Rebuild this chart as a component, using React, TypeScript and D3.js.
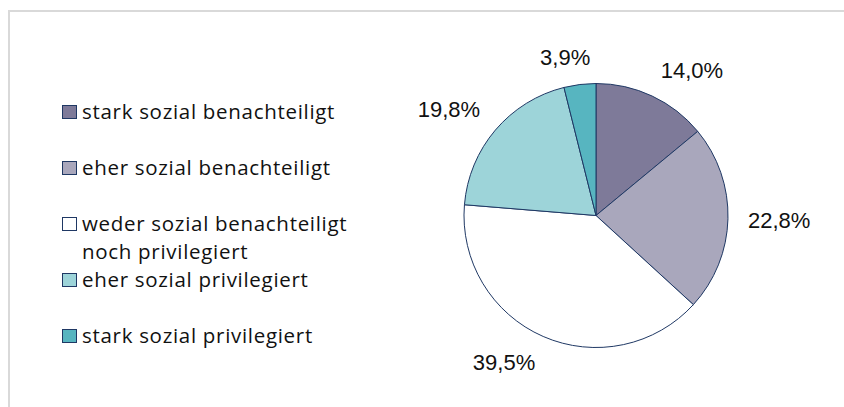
import React, { useEffect, useRef } from 'react';
import * as d3 from 'd3';

const categories = [
  'stark sozial benachteiligt',
  'eher sozial benachteiligt',
  'weder sozial benachteiligt|noch privilegiert',
  'eher sozial privilegiert',
  'stark sozial privilegiert',
];
const values = [14.0, 22.8, 39.5, 19.8, 3.9];
const labels = ['14,0%', '22,8%', '39,5%', '19,8%', '3,9%'];
const colors = ['#7e7a99', '#a9a7bc', '#ffffff', '#9dd4d9', '#57b5c0'];

const W = 844;
const H = 407;

const App: React.FC = () => {
  const svgRef = useRef<SVGSVGElement>(null);

  useEffect(() => {
    if (!svgRef.current) return;
    const svg = d3.select(svgRef.current);
    svg.selectAll('*').remove();

    // chart frame (only top/left edges visible)
    svg.append('rect')
      .attr('x', 9).attr('y', 11)
      .attr('width', 900).attr('height', 500)
      .attr('fill', 'none')
      .attr('stroke', '#d9d9d9')
      .attr('stroke-width', 2);

    const cx = 596;
    const cy = 215.5;
    const radius = 132;

    const data = values.map((v, i) => ({ v, i }));
    const pie = d3.pie<{ v: number; i: number }>()
      .sort(null)
      .value(d => d.v);
    const arcs = pie(data);
    const arc = d3.arc<d3.PieArcDatum<{ v: number; i: number }>>()
      .innerRadius(0)
      .outerRadius(radius);

    const g = svg.append('g').attr('transform', `translate(${cx},${cy})`);
    g.selectAll('path')
      .data(arcs)
      .enter()
      .append('path')
      .attr('d', arc)
      .attr('fill', d => colors[d.data.i])
      .attr('stroke', '#1f3864')
      .attr('stroke-width', 1);

    // data labels outside the pie
    const labelR = radius + 20;
    const capH = 15.5;
    arcs.forEach(a => {
      const mid = (a.startAngle + a.endAngle) / 2;
      const px = Math.sin(mid) * labelR;
      const py = -Math.cos(mid) * labelR;
      const t = g.append('text')
        .attr('font-family', '"Liberation Sans", Arial, sans-serif')
        .attr('font-size', 22)
        .attr('fill', '#111')
        .text(labels[a.data.i]);
      const w = (t.node() as SVGTextElement).getComputedTextLength();
      const fx = Math.max(0, Math.min(1, 0.5 + Math.sin(mid) * 2));
      const fy = Math.max(0, Math.min(1, 0.5 - Math.cos(mid) * 2));
      const left = px - w * (1 - fx);
      const top = py - capH * (1 - fy);
      t.attr('x', left).attr('y', top + capH);
    });

    // legend
    const lx = 62;
    const rowY = d3.scaleLinear().domain([0, 1]).range([119, 175]);
    const legend = svg.append('g');
    categories.forEach((c, i) => {
      const y = rowY(i);
      legend.append('rect')
        .attr('x', lx + 0.5)
        .attr('y', y - 13.5)
        .attr('width', 14)
        .attr('height', 13)
        .attr('fill', colors[i])
        .attr('stroke', '#1f3864')
        .attr('stroke-width', 1);
      c.split('|').forEach((line, j) => {
        legend.append('text')
          .attr('x', lx + 20)
          .attr('y', y + j * 28)
          .attr('font-family', '"Open Sans", sans-serif')
          .attr('font-size', 20.5)
          .attr('letter-spacing', 0.7)
          .attr('fill', '#111')
          .text(line);
      });
    });
  }, []);

  return (
    <svg
      ref={svgRef}
      width={W}
      height={H}
      style={{ position: 'absolute', left: 0, top: 0, background: '#fff' }}
    />
  );
};

export default App;
